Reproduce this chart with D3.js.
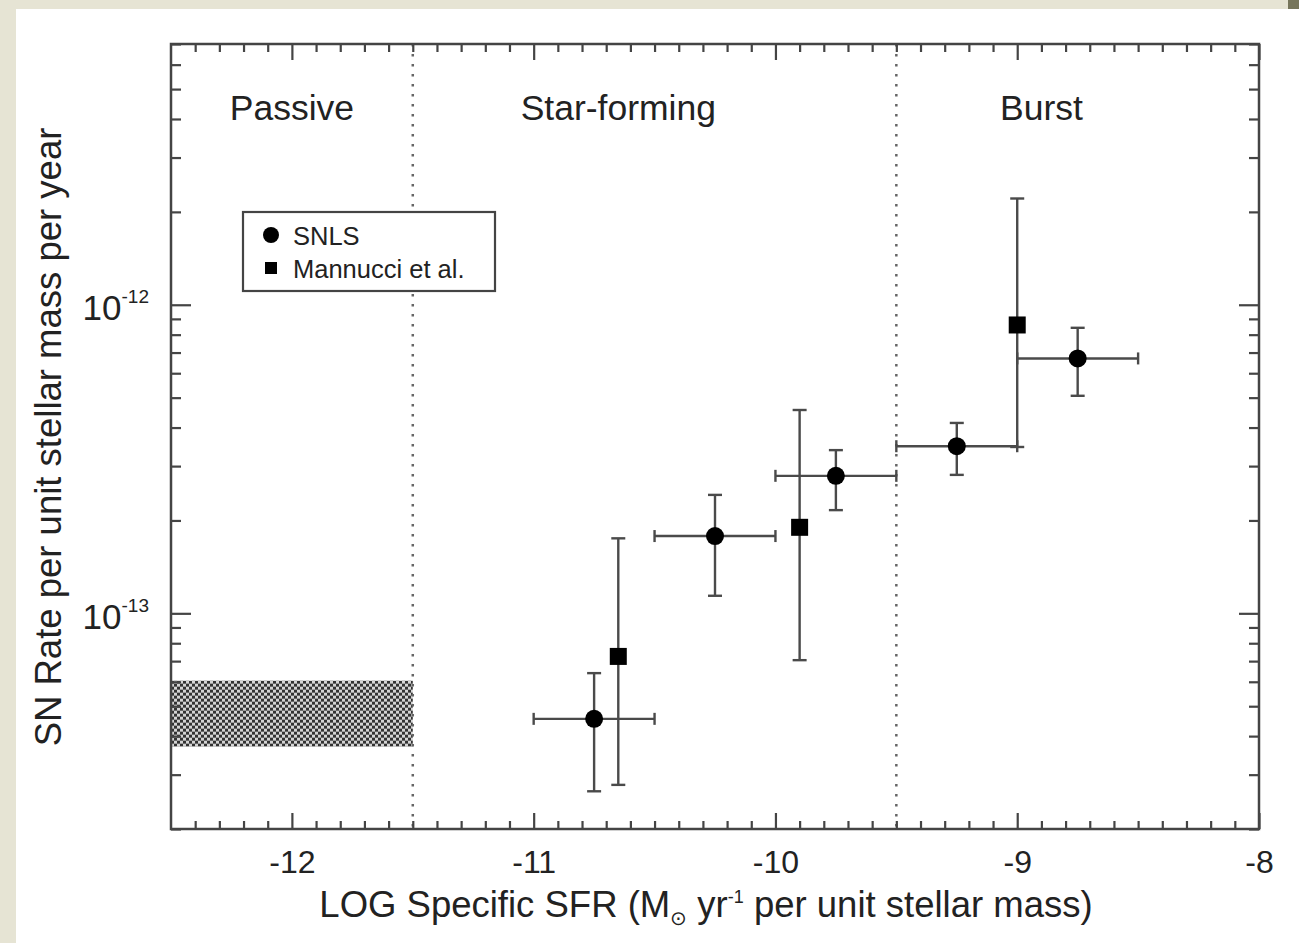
<!DOCTYPE html>
<html>
<head>
<meta charset="utf-8">
<script src="https://cdn.jsdelivr.net/npm/d3@7"></script>
<style>
  html, body { margin: 0; padding: 0; background: #e6e4d4; }
  svg { display: block; }
  text { font-family: "Liberation Sans", Arial, Helvetica, sans-serif; fill: #222; }
</style>
</head>
<body>
<svg id="chart" width="1299" height="943"></svg>
<script>
// SNLS binned rates (circles): bin centre, bin edges, rate and its error range
const snlsX      = [-10.75, -10.25, -9.75, -9.25, -8.75];
const snlsXLo    = [-11.0, -10.5, -10.0, -9.5, -9.0];
const snlsXHi    = [-10.5, -10.0, -9.5, -9.0, -8.5];
const snlsRate   = [4.55e-14, 1.78e-13, 2.79e-13, 3.48e-13, 6.7e-13];
const snlsRateLo = [2.65e-14, 1.14e-13, 2.16e-13, 2.81e-13, 5.07e-13];
const snlsRateHi = [6.4e-14, 2.42e-13, 3.38e-13, 4.14e-13, 8.42e-13];

// Mannucci et al. rates (squares)
const mannucciX      = [-10.65, -9.9, -9.0];
const mannucciRate   = [7.25e-14, 1.9e-13, 8.6e-13];
const mannucciRateLo = [2.78e-14, 7.05e-14, 3.46e-13];
const mannucciRateHi = [1.75e-13, 4.56e-13, 2.21e-12];

// Passive-galaxy rate band
const passiveX    = [-12.5, -11.5];
const passiveRate = [3.7e-14, 6.05e-14];

// Regions
const regionBounds = [-11.5, -9.5];
const regionNames  = ["Passive", "Star-forming", "Burst"];
const regionLabelX = [-12.0, -10.65, -8.9];

// Axis ticks
const xTicks    = [-12, -11, -10, -9, -8];
const xTickText = ["-12", "-11", "-10", "-9", "-8"];
const yTicks    = [1e-13, 1e-12];
const yTickExp  = ["-13", "-12"];

const legendNames = ["SNLS", "Mannucci et al."];

const svg = d3.select("#chart");
const W = 1299, H = 943;
const plot = { left: 171, right: 1259, top: 44, bottom: 829 };

// backdrop: tinted frame with a white sheet
svg.append("rect").attr("x", 0).attr("y", 0).attr("width", W).attr("height", H).attr("fill", "#e6e4d4");
svg.append("rect").attr("x", 1288).attr("y", 0).attr("width", 11).attr("height", 10).attr("fill", "#77765c");
svg.append("rect").attr("x", 16).attr("y", 9).attr("width", W - 16).attr("height", H - 9).attr("fill", "#ffffff");

const x = d3.scaleLinear().domain([-12.5, -8]).range([plot.left, plot.right]);
const y = d3.scaleLog().domain([2e-14, 7e-12]).range([plot.bottom, plot.top]);

// checkerboard fill for the passive band
const defs = svg.append("defs");
const pat = defs.append("pattern").attr("id", "checker")
  .attr("patternUnits", "userSpaceOnUse").attr("width", 6).attr("height", 6)
  .attr("x", x(passiveX[0])).attr("y", y(passiveRate[1]));
pat.append("rect").attr("width", 6).attr("height", 6).attr("fill", "#d4d4d4");
pat.append("rect").attr("width", 3).attr("height", 3).attr("fill", "#333");
pat.append("rect").attr("x", 3).attr("y", 3).attr("width", 3).attr("height", 3).attr("fill", "#333");

svg.append("rect")
  .attr("x", x(passiveX[0])).attr("width", x(passiveX[1]) - x(passiveX[0]))
  .attr("y", y(passiveRate[1])).attr("height", y(passiveRate[0]) - y(passiveRate[1]))
  .attr("fill", "url(#checker)");

// region boundaries
svg.selectAll("line.region").data(regionBounds).join("line")
  .attr("class", "region")
  .attr("x1", d => x(d)).attr("x2", d => x(d))
  .attr("y1", plot.top).attr("y2", plot.bottom)
  .attr("stroke", "#666").attr("stroke-width", 2.5).attr("stroke-dasharray", "2.5,7.5");

svg.selectAll("text.region").data(regionNames).join("text")
  .attr("class", "region")
  .attr("x", (d, i) => x(regionLabelX[i])).attr("y", 120)
  .attr("text-anchor", "middle").attr("font-size", 35.5)
  .text(d => d);

// axes: ticks point inward on all four sides
const minorX = d3.range(-124, -80).map(v => v / 10).filter(v => Math.abs(v - Math.round(v)) > 1e-6);
const minorY = [];
[-14, -13, -12].forEach(e => d3.range(2, 10).forEach(k => {
  const v = k * Math.pow(10, e);
  if (v >= 2e-14 && v <= 7e-12) minorY.push(v);
}));

function styleAxis(g) {
  g.select(".domain").remove();
  g.selectAll(".tick line").attr("stroke", "#444").attr("stroke-width", 2.2);
}

const gBottom = svg.append("g").attr("transform", `translate(0,${plot.bottom})`);
gBottom.append("g").call(d3.axisBottom(x).tickValues(minorX).tickSize(-8).tickFormat("")).call(styleAxis);
gBottom.append("g").call(d3.axisBottom(x).tickValues(xTicks).tickSize(-16).tickPadding(21)
    .tickFormat((d, i) => xTickText[i])).call(styleAxis)
  .selectAll("text").attr("font-size", 32).attr("fill", "#222")
  .attr("font-family", "Liberation Sans, Arial, sans-serif");

const gTop = svg.append("g").attr("transform", `translate(0,${plot.top})`);
gTop.append("g").call(d3.axisTop(x).tickValues(minorX).tickSize(-8).tickFormat("")).call(styleAxis);
gTop.append("g").call(d3.axisTop(x).tickValues(xTicks).tickSize(-16).tickFormat("")).call(styleAxis);

const gLeft = svg.append("g").attr("transform", `translate(${plot.left},0)`);
gLeft.append("g").call(d3.axisLeft(y).tickValues(minorY).tickSize(-10).tickFormat("")).call(styleAxis);
const leftMajor = gLeft.append("g").call(d3.axisLeft(y).tickValues(yTicks).tickSize(-20).tickPadding(22)
    .tickFormat("")).call(styleAxis);
leftMajor.selectAll(".tick text").each(function (d, i) {
  const t = d3.select(this).attr("dy", null).attr("y", 15).attr("font-size", 35)
    .attr("fill", "#222").attr("font-family", "Liberation Sans, Arial, sans-serif");
  t.text(null);
  t.append("tspan").text("10");
  t.append("tspan").attr("font-size", 19).attr("dy", -17).text(yTickExp[i]);
});

const gRight = svg.append("g").attr("transform", `translate(${plot.right},0)`);
gRight.append("g").call(d3.axisRight(y).tickValues(minorY).tickSize(-10).tickFormat("")).call(styleAxis);
gRight.append("g").call(d3.axisRight(y).tickValues(yTicks).tickSize(-20).tickFormat("")).call(styleAxis);

// frame
svg.append("rect")
  .attr("x", plot.left).attr("y", plot.top)
  .attr("width", plot.right - plot.left).attr("height", plot.bottom - plot.top)
  .attr("fill", "none").attr("stroke", "#444").attr("stroke-width", 2.5);

// axis titles
const xTitle = svg.append("text").attr("x", (plot.left + plot.right) / 2 - 9).attr("y", 917)
  .attr("text-anchor", "middle").attr("font-size", 36.5);
xTitle.append("tspan").text("LOG Specific SFR (M");
xTitle.append("tspan").attr("font-size", 20).attr("dy", 8).text("\u2299");
xTitle.append("tspan").attr("dy", -8).text(" yr");
xTitle.append("tspan").attr("font-size", 18).attr("dy", -14).text("-1");
xTitle.append("tspan").attr("dy", 14).text(" per unit stellar mass)");

svg.append("text")
  .attr("transform", `translate(61,${437}) rotate(-90)`)
  .attr("text-anchor", "middle").attr("font-size", 36.5)
  .text("SN Rate per unit stellar mass per year");

// error bars
const errColor = "#4a4a4a", errW = 2.4, capV = 14, capH = 12;
const gErr = svg.append("g").attr("stroke", errColor).attr("stroke-width", errW).attr("fill", "none");

function vBar(xv, lo, hi) {
  gErr.append("line").attr("x1", x(xv)).attr("x2", x(xv)).attr("y1", y(lo)).attr("y2", y(hi));
  [lo, hi].forEach(v => gErr.append("line")
    .attr("x1", x(xv) - capV / 2).attr("x2", x(xv) + capV / 2).attr("y1", y(v)).attr("y2", y(v)));
}
function hBar(yv, lo, hi) {
  gErr.append("line").attr("x1", x(lo)).attr("x2", x(hi)).attr("y1", y(yv)).attr("y2", y(yv));
  [lo, hi].forEach(v => gErr.append("line")
    .attr("x1", x(v)).attr("x2", x(v)).attr("y1", y(yv) - capH / 2).attr("y2", y(yv) + capH / 2));
}
snlsX.forEach((xv, i) => {
  hBar(snlsRate[i], snlsXLo[i], snlsXHi[i]);
  vBar(xv, snlsRateLo[i], snlsRateHi[i]);
});
mannucciX.forEach((xv, i) => vBar(xv, mannucciRateLo[i], mannucciRateHi[i]));

// markers
svg.selectAll("circle.snls").data(snlsX).join("circle")
  .attr("class", "snls")
  .attr("cx", d => x(d)).attr("cy", (d, i) => y(snlsRate[i])).attr("r", 9)
  .attr("fill", "#000");
const sq = 17;
svg.selectAll("rect.mannucci").data(mannucciX).join("rect")
  .attr("class", "mannucci")
  .attr("x", d => x(d) - sq / 2).attr("y", (d, i) => y(mannucciRate[i]) - sq / 2)
  .attr("width", sq).attr("height", sq).attr("fill", "#000");

// legend
const lg = svg.append("g");
lg.append("rect").attr("x", 243).attr("y", 212).attr("width", 252).attr("height", 79)
  .attr("fill", "#fff").attr("stroke", "#444").attr("stroke-width", 2.2);
lg.append("circle").attr("cx", 271).attr("cy", 235).attr("r", 8).attr("fill", "#000");
lg.append("rect").attr("x", 265).attr("y", 262).attr("width", 12).attr("height", 12).attr("fill", "#000");
lg.selectAll("text").data(legendNames).join("text")
  .attr("x", 293).attr("y", (d, i) => 245 + i * 33)
  .attr("font-size", 25.5).text(d => d);
</script>
</body>
</html>
